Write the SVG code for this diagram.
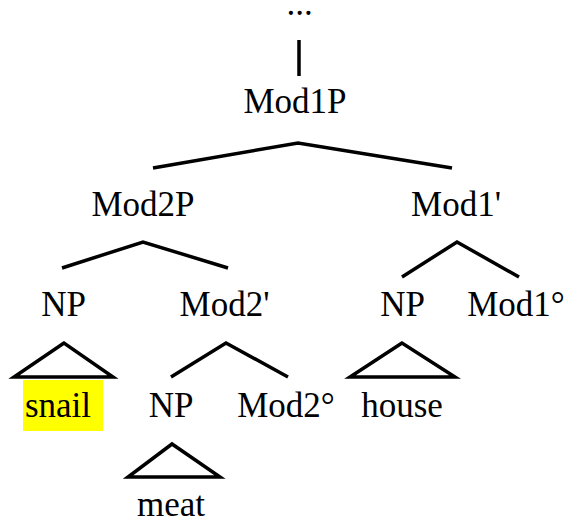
<svg xmlns="http://www.w3.org/2000/svg" width="566" height="525" viewBox="0 0 566 525">
<style>
.e{fill:none;stroke:#000;stroke-width:3.5;stroke-linejoin:miter}
</style>
<rect width="566" height="525" fill="#fff"/>
<g id="connectors">
<line class="e" x1="299" y1="40" x2="299" y2="76"/>
<polyline class="e" points="153,168 298,143 452,168"/>
<polyline class="e" points="62,268 143,242 228,268"/>
<polyline class="e" points="402,277 457,242 519,277"/>
<polyline class="e" points="171,377 226,343 288,377"/>
<polygon class="e" points="64,343 14,377 113,377"/>
<polygon class="e" points="402,343 350,377 455,377"/>
<polygon class="e" points="172,444 128,477 220,477"/>
</g>
<g font-family="'Liberation Serif', 'Times New Roman', serif" font-size="35" text-anchor="middle" fill="#000">
<g id="top"><text x="299.5" y="15">...</text></g>
<g id="mod1p"><text x="295" y="113">Mod1P</text></g>
<g id="mod2p"><text x="143" y="216">Mod2P</text></g>
<g id="mod1bar"><text x="456" y="216">Mod1'</text></g>
<g id="np1"><text x="63.5" y="316">NP</text></g>
<g id="mod2bar"><text x="224.5" y="316">Mod2'</text></g>
<g id="np3"><text x="402.5" y="316">NP</text></g>
<g id="mod1head"><text x="516" y="316">Mod1°</text></g>
<g id="snail"><rect x="23" y="380" width="80" height="51" fill="#ffff00"/><text x="58" y="417">snail</text></g>
<g id="np2"><text x="171" y="417">NP</text></g>
<g id="mod2head"><text x="286" y="417">Mod2°</text></g>
<g id="house"><text x="402" y="417">house</text></g>
<g id="meat"><text x="171" y="516">meat</text></g>
</g>
</svg>
